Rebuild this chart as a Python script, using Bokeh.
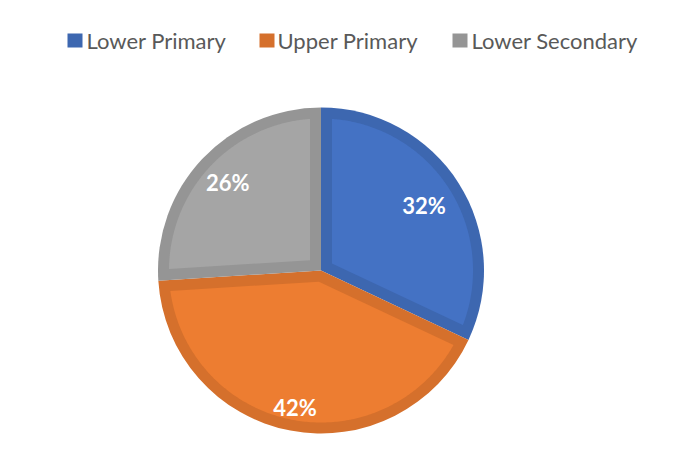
import numpy as np
from bokeh.plotting import figure
from bokeh.models import Range1d, ColumnDataSource
from bokeh.core.properties import value
from bokeh.embed import file_html
from bokeh.resources import INLINE

# ---- data ----
categories = ["Lower Primary", "Upper Primary", "Lower Secondary"]
shares = [32, 42, 26]
pct_labels = ["32%", "42%", "26%"]

# ---- style / layout ----
fill_colors = ["#4472C4", "#ED7D31", "#A5A5A5"]
edge_colors = ["#3D67B0", "#D5702C", "#959595"]
label_radius = [122, 139, 128]
W, H = 679, 436
PAGE_H = 452
cx, cy = 320.5, PAGE_H - 270      # pie centre (picture px -> data)
R = 163.0
band = 11.0

p = figure(width=W, height=H, output_backend="svg", toolbar_location=None,
           x_range=Range1d(0, W), y_range=Range1d(PAGE_H - H, PAGE_H),
           x_axis_type=None, y_axis_type=None, min_border=0)
p.outline_line_color = None
p.grid.visible = False
p.background_fill_color = "white"
p.border_fill_color = "white"

vals = np.array(shares, dtype=float)
frac = vals / vals.sum()
cum = np.concatenate([[0], np.cumsum(frac)])
start = np.pi / 2 - cum[:-1] * 2 * np.pi
end = np.pi / 2 - cum[1:] * 2 * np.pi

# outer (dark) wedges
src = ColumnDataSource(dict(start=start, end=end, color=edge_colors, cat=categories))
p.wedge(x=cx, y=cy, radius=R, start_angle="start", end_angle="end", direction="clock",
        fill_color="color", line_color=None, source=src)

# inner (light) wedges, inset by the band width
xs, ys = [], []
Ri = R - band
delta = np.arcsin(band / Ri)
for a0, a1 in zip(start, end):
    span = a0 - a1
    mid = (a0 + a1) / 2
    s = band / np.sin(span / 2)
    vx, vy = cx + s * np.cos(mid), cy + s * np.sin(mid)
    angs = np.linspace(a0 - delta, a1 + delta, 200)
    xs.append([vx] + list(cx + Ri * np.cos(angs)))
    ys.append([vy] + list(cy + Ri * np.sin(angs)))
p.patches(xs=xs, ys=ys, fill_color=fill_colors, line_color=None)

# percentage labels
mids = (start + end) / 2
lr = np.array(label_radius, dtype=float)
p.text(x=cx + lr * np.cos(mids), y=cy + lr * np.sin(mids), text=pct_labels,
       text_color="white", text_font=value("Lato"), text_font_style="bold",
       text_font_size="22px", text_align="center", text_baseline="middle")

# legend
leg_sq_x = [74.5, 266.5, 459.5]
leg_tx_x = [86, 277, 471]
leg_y = PAGE_H - 40
p.rect(x=leg_sq_x, y=leg_y, width=15, height=14, fill_color=edge_colors, line_color=None)
p.text(x=leg_tx_x, y=PAGE_H - 40, text=categories, text_color="#595959",
       text_font=value("Lato"), text_font_size="22px", text_baseline="middle",
       text_align="left")

open("out.html", "w").write(file_html(p, INLINE))
